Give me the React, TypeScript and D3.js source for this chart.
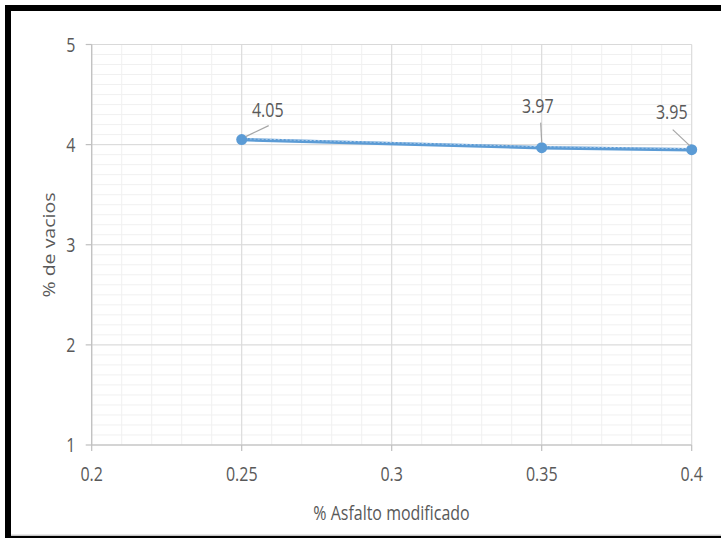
import React from "react";
import * as d3 from "d3";

const asfalto = [0.25, 0.35, 0.4];
const vacios = [4.05, 3.97, 3.95];
const xTicks = [0.2, 0.25, 0.3, 0.35, 0.4];
const yTicks = [1, 2, 3, 4, 5];
const xTitle = "% Asfalto modificado";
const yTitle = "% de vacios";

const W = 721;
const H = 538;
const FONT = "'Open Sans', sans-serif";
const TXT = "#595959";
const STRETCH = 1.22;

const x = d3.scaleLinear().domain([0.2, 0.4]).range([91.7, 691.7]);
const y = d3.scaleLinear().domain([1, 5]).range([445, 44.5]);

const xMinor = d3.range(0, 21).map((i) => 0.2 + i * 0.01);
const yMinor = d3.range(0, 41).map((i) => 1 + i * 0.1);

// label offsets (dx, dy baseline relative to point) and leader endpoints
const labelOffsets = [
  { dx: 26, dy: -23, lx1: 4, ly1: -3, lx2: 27, ly2: -14, anchor: "middle" },
  { dx: -4, dy: -35, lx1: 0, ly1: -5, lx2: -1, ly2: -25, anchor: "middle" },
  { dx: -20, dy: -31, lx1: -2, ly1: -4, lx2: -19, ly2: -20, anchor: "middle" },
];

function SText({ px, py, children, size = 16, anchor = "middle", rotate = 0, fill = TXT }: any) {
  return (
    <text
      transform={`translate(${px},${py}) scale(1,${STRETCH}) rotate(${rotate})`}
      textAnchor={anchor}
      fontFamily={FONT}
      fontSize={size}
      fill={fill}
    >
      {children}
    </text>
  );
}

export default function App() {
  const line = d3
    .line<number>()
    .x((_, i) => x(asfalto[i]))
    .y((d) => y(d));
  const path = line(vacios) || "";

  return (
    <svg
      width={W}
      height={H}
      style={{ position: "absolute", left: 0, top: 0, background: "#fff" }}
    >
      <rect x={0} y={0} width={W} height={H} fill="#fff" />
      {/* minor grid */}
      {xMinor.map((v, i) => (
        <line key={"xm" + i} x1={x(v)} x2={x(v)} y1={y(5)} y2={y(1)} stroke="#f0f0f0" strokeWidth={1} />
      ))}
      {yMinor.map((v, i) => (
        <line key={"ym" + i} x1={x(0.2)} x2={x(0.4)} y1={y(v)} y2={y(v)} stroke="#f0f0f0" strokeWidth={1} />
      ))}
      {/* major grid */}
      {xTicks.map((v, i) => (
        <line key={"xg" + i} x1={x(v)} x2={x(v)} y1={y(5)} y2={y(1)} stroke="#d9d9d9" strokeWidth={1} />
      ))}
      {yTicks.map((v, i) => (
        <line key={"yg" + i} x1={x(0.2)} x2={x(0.4)} y1={y(v)} y2={y(v)} stroke="#d9d9d9" strokeWidth={1} />
      ))}
      {/* axes */}
      <line x1={x(0.2)} x2={x(0.2)} y1={y(5)} y2={y(1)} stroke="#bfbfbf" strokeWidth={1.2} />
      <line x1={x(0.2)} x2={x(0.4)} y1={y(1)} y2={y(1)} stroke="#bfbfbf" strokeWidth={1.2} />
      {yTicks.map((v, i) => (
        <line key={"yt" + i} x1={x(0.2) - 6} x2={x(0.2)} y1={y(v)} y2={y(v)} stroke="#bfbfbf" strokeWidth={1.2} />
      ))}
      {xTicks.map((v, i) => (
        <line key={"xt" + i} x1={x(v)} x2={x(v)} y1={y(1)} y2={y(1) + 6} stroke="#bfbfbf" strokeWidth={1.2} />
      ))}
      {/* tick labels */}
      {yTicks.map((v, i) => (
        <SText key={"yl" + i} px={75.5} py={y(v) + 7} anchor="end">
          {String(v)}
        </SText>
      ))}
      {xTicks.map((v, i) => (
        <SText key={"xl" + i} px={x(v)} py={481}>
          {String(v)}
        </SText>
      ))}
      {/* titles */}
      <SText px={391.5} py={520}>{xTitle}</SText>
      <SText px={55} py={245} rotate={-90}>{yTitle}</SText>
      {/* series */}
      <path d={path} fill="none" stroke="#5b9bd5" strokeWidth={3.5} strokeLinejoin="round" />
      <path
        d={path}
        fill="none"
        stroke="#b4d0ec"
        strokeWidth={1}
        strokeDasharray="2,2"
        transform="translate(0,-1)"
      />
      {vacios.map((v, i) => (
        <circle key={"m" + i} cx={x(asfalto[i])} cy={y(v)} r={5.5} fill="#5b9bd5" />
      ))}
      {/* data labels */}
      {vacios.map((v, i) => {
        const o = labelOffsets[i];
        const px = x(asfalto[i]);
        const py = y(v);
        return (
          <g key={"dl" + i}>
            <line x1={px + o.lx1} y1={py + o.ly1} x2={px + o.lx2} y2={py + o.ly2} stroke="#a6a6a6" strokeWidth={1.2} />
            <SText px={px + o.dx} py={py + o.dy} size={16} anchor={o.anchor}>
              {v.toFixed(2)}
            </SText>
          </g>
        );
      })}
      {/* frame */}
      <path d={`M8,${H} L8,8 L${W},8`} fill="none" stroke="#000" strokeWidth={6} />
      <line x1={8} x2={W} y1={537} y2={537} stroke="#000" strokeWidth={2.5} />
      <line x1={11} x2={W} y1={535} y2={535} stroke="#d0d0d0" strokeWidth={1} />
    </svg>
  );
}
